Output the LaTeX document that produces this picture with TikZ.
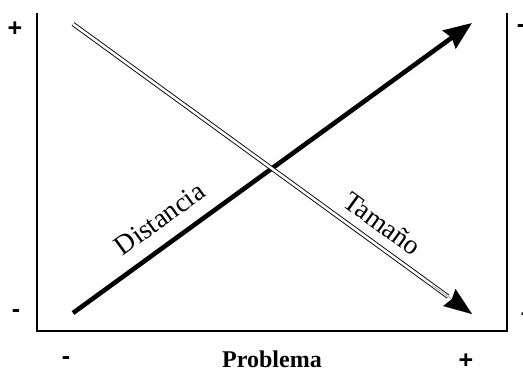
\documentclass[tikz,border=0pt]{standalone}
\usepackage{fontspec}
\setmainfont{Liberation Serif}
\newfontfamily\signfont{Liberation Sans}
\usetikzlibrary{arrows.meta,calc}
\begin{document}
\begin{tikzpicture}[x=1pt,y=-1pt,
  axisline/.style={line width=2.4pt},
  sign/.style={font=\signfont\bfseries\fontsize{25}{25}\selectfont, inner sep=0pt},
  lbl/.style={font=\fontsize{27.5}{27.5}\selectfont, inner sep=0pt, anchor=base},
  thickarrow/.style={line width=4.6pt, -{Stealth[length=28pt,width=22pt,inset=3pt]}},
  dblline/.style={double, double distance=2.6pt, line width=0.9pt},
  tiponly/.style={line width=0.1pt, -{Stealth[length=28pt,width=21pt,inset=3pt]}}]
\useasboundingbox (0,0) rectangle (523,372);
% axes
\coordinate (tl) at (37,13);
\coordinate (bl) at (37,331);
\coordinate (br) at (507,331);
\coordinate (tr) at (507,13);
\draw[axisline, line join=miter] (tl) -- (bl) -- (br) -- (tr);
% arrows
\coordinate (ds) at (73,313);
\coordinate (de) at (472,23);
\coordinate (ts) at (73,24);
\coordinate (te) at (472,314);
\draw[thickarrow] (ds) -- (de);
\coordinate (tm) at ($(ts)!0.94!(te)$);
\draw[dblline] (ts) -- (tm);
\draw[tiponly] ($(ts)!0.9!(te)$) -- (te);
% labels
\node[sign] (lp) at (15,29) {+};
\node[sign] (lm) at (16,314) {-};
\node[sign] (bm) at (66,361) {-};
\node[sign] (bp) at (466,361) {+};
\node[sign] (rm) at (521,29) {-};
\node[sign] (rp) at (528,315) {+};
\node[font=\bfseries\fontsize{24}{24}\selectfont] (prob) at (272,359) {Problema};
\node[lbl, rotate=36] (dist) at (165,226) {Distancia};
\node[lbl, rotate=-36] (tam) at (377,231) {Tamaño};
\end{tikzpicture}
\end{document}
